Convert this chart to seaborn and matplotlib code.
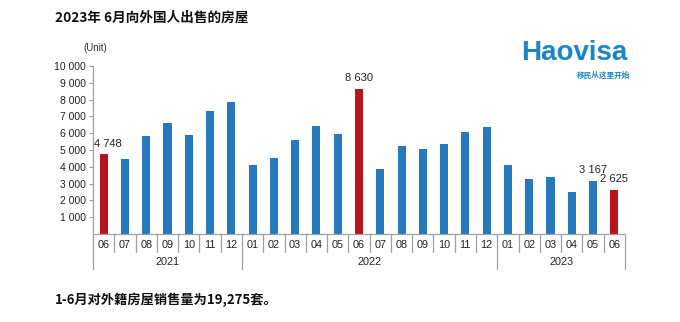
import matplotlib
matplotlib.use("Agg")
import matplotlib.pyplot as plt
import matplotlib.transforms as mtransforms
import seaborn as sns
import pandas as pd

# ---- data ----
years = ["2021"] * 7 + ["2022"] * 12 + ["2023"] * 6
months = ["06", "07", "08", "09", "10", "11", "12",
          "01", "02", "03", "04", "05", "06", "07", "08", "09", "10", "11", "12",
          "01", "02", "03", "04", "05", "06"]
sales = [4748, 4470, 5830, 6590, 5870, 7350, 7830,
         4110, 4550, 5570, 6410, 5930, 8630, 3890, 5210, 5030, 5370, 6090, 6370,
         4130, 3270, 3370, 2510, 3167, 2625]
highlight = [True, False, False, False, False, False, False,
             False, False, False, False, False, True, False, False, False, False, False, False,
             False, False, False, False, False, True]
labelled = [0, 12, 23, 24]
y_ticks = [1000, 2000, 3000, 4000, 5000, 6000, 7000, 8000, 9000, 10000]

title = "2023年 6月向外国人出售的房屋"
footer = "1-6月对外籍房屋销售量为19,275套。"
unit = "(Unit)"
logo = "Haovisa"
logo_sub = "移民从这里开始"

BLUE = "#2878bd"
RED = "#b3161c"

sns.set_theme(style="white")
plt.rcParams["font.family"] = ["Liberation Sans", "Noto Sans CJK SC", "DejaVu Sans"]

df = pd.DataFrame({"key": [f"{y}-{m}" for y, m in zip(years, months)],
                   "sales": sales})
palette = {k: (RED if h else BLUE) for k, h in zip(df["key"], highlight)}

fig = plt.figure(figsize=(6.8, 3.22), dpi=100)
ax = fig.add_axes([93 / 680, 1 - 234 / 322, (625 - 93) / 680, 168 / 322])

sns.barplot(data=df, x="key", y="sales", hue="key", palette=palette,
            width=0.38, legend=False, ax=ax, saturation=1,
            edgecolor="none")

ax.set_xlim(-0.5, len(sales) - 0.5)
ax.set_ylim(0, 10000)
ax.set_yticks(y_ticks)
ax.set_yticklabels([f"{v:,}".replace(",", " ") for v in y_ticks])
ax.set_xticks([])
ax.set_xlabel("")
ax.set_ylabel("")
for s in ["top", "right"]:
    ax.spines[s].set_visible(False)
for s in ["left", "bottom"]:
    ax.spines[s].set_color("#a0a0a0")
    ax.spines[s].set_linewidth(0.9)
ax.tick_params(axis="y", which="both", left=True, length=3, width=0.8,
               color="#a0a0a0", labelsize=7.5, labelcolor="#222222", pad=2)

# data labels
for i in labelled:
    ax.text(i + (0.2 if i == 0 else 0), sales[i] + 330, f"{sales[i]:,}".replace(",", " "),
            ha="center", va="bottom", fontsize=8, color="#222222")

# category axis: month boxes and year groups
trans = mtransforms.blended_transform_factory(ax.transData, ax.transAxes)
n = len(sales)
year_starts = [i for i in range(n) if i == 0 or years[i] != years[i - 1]]
for b in range(n + 1):
    is_year = (b in year_starts) or b == n
    y_end = -0.21 if is_year else -0.108
    ax.plot([b - 0.5, b - 0.5], [0, y_end], transform=trans, color="#a0a0a0",
            lw=0.9, clip_on=False)
for i, m in enumerate(months):
    ax.text(i, -0.065, m, transform=trans, ha="center", va="center",
            fontsize=7.8, color="#222222")
for k, s in enumerate(year_starts):
    e = year_starts[k + 1] if k + 1 < len(year_starts) else n
    ax.text((s + e - 1) / 2, -0.168, years[s], transform=trans, ha="center",
            va="center", fontsize=7.8, color="#222222")

# texts
cjk = ["Noto Sans CJK SC", "DejaVu Sans"]
fig.text(55 / 680, 1 - 18 / 322, title, ha="left", va="center", fontsize=9.8,
         fontweight="bold", family=cjk, color="#111111")
fig.text(55 / 680, 1 - 300 / 322, footer, ha="left", va="center", fontsize=9.5,
         fontweight="bold", family=cjk, color="#111111")
fig.text(95 / 680, 1 - 48 / 322, unit, ha="center", va="center", fontsize=7,
         color="#333333")
fig.text(627 / 680, 1 - 53 / 322, logo, ha="right", va="center", fontsize=20,
         fontweight="bold", color="#1a86c8", family=["Liberation Sans"])
fig.text(630 / 680, 1 - 75.5 / 322, logo_sub, ha="right", va="center", fontsize=5.5,
         fontweight="bold", color="#1a86c8", family=cjk)

fig.savefig("out.png", dpi=100)
